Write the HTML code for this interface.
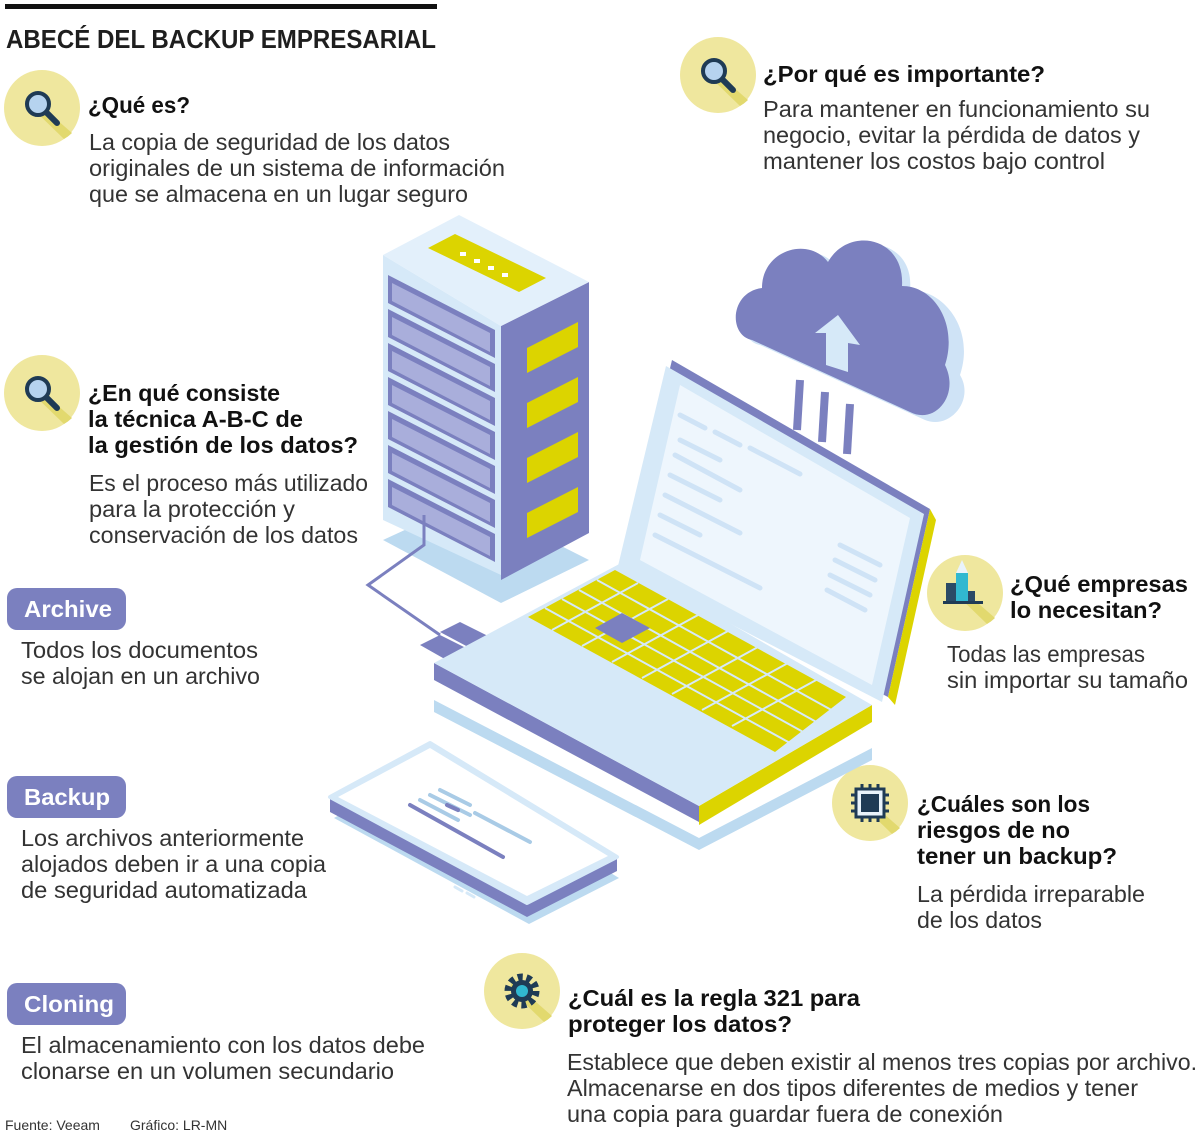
<!DOCTYPE html>
<html><head><meta charset="utf-8">
<style>
html,body{margin:0;padding:0;background:#fff;}
svg{display:block;}
text{font-family:"Liberation Sans",sans-serif;fill:#1e1e1e;}
.b{font-weight:bold;font-size:23px;fill:#111;}
.t{font-size:23px;fill:#333;}
.w{font-weight:bold;font-size:23px;fill:#fff;}
</style></head><body>
<svg width="1200" height="1139" viewBox="0 0 1200 1139" xmlns="http://www.w3.org/2000/svg">
<rect x="5" y="4" width="432" height="5" fill="#111"/>
<text x="6" y="48" style="font-weight:bold;font-size:26px" textLength="430" lengthAdjust="spacingAndGlyphs">ABECÉ DEL BACKUP EMPRESARIAL</text>

<defs>
<g id="circ">
 <circle cx="0" cy="0" r="38" fill="#efe79e"/>
 <path d="M-10,-10 L30,25 A38,38 0 0 1 22,31 L-12,-2 Z" fill="#e2d96e"/>
</g>
<g id="mag">
 <line x1="4" y1="4" x2="15" y2="15" stroke="#1f3b55" stroke-width="6" stroke-linecap="round"/>
 <circle cx="-4" cy="-4" r="11" fill="#b6d3ef" stroke="#1f3b55" stroke-width="4"/>
</g>
</defs>

<g transform="translate(42,108)"><use href="#circ"/><use href="#mag"/></g>
<g transform="translate(718,75)"><use href="#circ"/><use href="#mag"/></g>
<g transform="translate(42,393)"><use href="#circ"/><use href="#mag"/></g>
<g transform="translate(965,593)"><use href="#circ"/>
 <rect x="-19" y="-10" width="10" height="18" fill="#2b4a66"/>
 <rect x="-9" y="-20" width="12" height="28" fill="#31b8d0"/>
 <polygon points="-9,-20 -3,-33 3,-20" fill="#e9f3fb"/>
 <rect x="3" y="-2" width="7" height="10" fill="#2b4a66"/>
 <rect x="-22" y="8" width="40" height="3" fill="#1f3b55"/>
</g>
<g transform="translate(870,803)"><use href="#circ"/>
 <rect x="-14" y="-14" width="28" height="28" fill="#e9f3fb" stroke="#1f3b55" stroke-width="3"/>
 <rect x="-9" y="-9" width="18" height="18" fill="#1f3b55"/>
 <path d="M-8,-14v-5M0,-14v-5M8,-14v-5M-8,14v5M0,14v5M8,14v5M-14,-8h-5M-14,0h-5M-14,8h-5M14,-8h5M14,0h5M14,8h5" stroke="#1f3b55" stroke-width="3"/>
</g>
<g transform="translate(522,991)"><use href="#circ"/>
 <circle r="14" fill="none" stroke="#1f3b55" stroke-width="7" stroke-dasharray="5 3.8"/>
 <circle r="11" fill="#1f3b55"/>
 <circle r="6" fill="#31b8d0"/>
</g>

<text x="88" y="113" class="b" textLength="102" lengthAdjust="spacingAndGlyphs">¿Qué es?</text>
<text x="89" y="150" class="t" textLength="361" lengthAdjust="spacingAndGlyphs">La copia de seguridad de los datos</text>
<text x="89" y="176" class="t" textLength="416" lengthAdjust="spacingAndGlyphs">originales de un sistema de información</text>
<text x="89" y="202" class="t" textLength="379" lengthAdjust="spacingAndGlyphs">que se almacena en un lugar seguro</text>

<text x="763" y="82" class="b" textLength="282" lengthAdjust="spacingAndGlyphs">¿Por qué es importante?</text>
<text x="763" y="117" class="t" textLength="387" lengthAdjust="spacingAndGlyphs">Para mantener en funcionamiento su</text>
<text x="763" y="143" class="t" textLength="377" lengthAdjust="spacingAndGlyphs">negocio, evitar la pérdida de datos y</text>
<text x="763" y="169" class="t" textLength="342" lengthAdjust="spacingAndGlyphs">mantener los costos bajo control</text>

<text x="88" y="401" class="b" textLength="192" lengthAdjust="spacingAndGlyphs">¿En qué consiste</text>
<text x="88" y="427" class="b" textLength="215" lengthAdjust="spacingAndGlyphs">la técnica A-B-C de</text>
<text x="88" y="453" class="b" textLength="270" lengthAdjust="spacingAndGlyphs">la gestión de los datos?</text>
<text x="89" y="491" class="t" textLength="279" lengthAdjust="spacingAndGlyphs">Es el proceso más utilizado</text>
<text x="89" y="517" class="t" textLength="206" lengthAdjust="spacingAndGlyphs">para la protección y</text>
<text x="89" y="543" class="t" textLength="269" lengthAdjust="spacingAndGlyphs">conservación de los datos</text>

<rect x="7" y="588" width="119" height="42" rx="10" fill="#7b80bf"/>
<text x="24" y="617" class="w" textLength="88" lengthAdjust="spacingAndGlyphs">Archive</text>
<text x="21" y="658" class="t" textLength="237" lengthAdjust="spacingAndGlyphs">Todos los documentos</text>
<text x="21" y="684" class="t" textLength="239" lengthAdjust="spacingAndGlyphs">se alojan en un archivo</text>

<rect x="7" y="776" width="119" height="42" rx="10" fill="#7b80bf"/>
<text x="24" y="805" class="w" textLength="86" lengthAdjust="spacingAndGlyphs">Backup</text>
<text x="21" y="846" class="t" textLength="283" lengthAdjust="spacingAndGlyphs">Los archivos anteriormente</text>
<text x="21" y="872" class="t" textLength="305" lengthAdjust="spacingAndGlyphs">alojados deben ir a una copia</text>
<text x="21" y="898" class="t" textLength="286" lengthAdjust="spacingAndGlyphs">de seguridad automatizada</text>

<rect x="7" y="983" width="119" height="42" rx="10" fill="#7b80bf"/>
<text x="24" y="1012" class="w" textLength="90" lengthAdjust="spacingAndGlyphs">Cloning</text>
<text x="21" y="1053" class="t" textLength="404" lengthAdjust="spacingAndGlyphs">El almacenamiento con los datos debe</text>
<text x="21" y="1079" class="t" textLength="373" lengthAdjust="spacingAndGlyphs">clonarse en un volumen secundario</text>

<text x="5" y="1130" style="font-size:14px;fill:#333">Fuente: Veeam</text>
<text x="130" y="1130" style="font-size:14px;fill:#333">Gráfico: LR-MN</text>

<text x="1010" y="592" class="b" textLength="178" lengthAdjust="spacingAndGlyphs">¿Qué empresas</text>
<text x="1010" y="618" class="b" textLength="152" lengthAdjust="spacingAndGlyphs">lo necesitan?</text>
<text x="947" y="662" class="t" textLength="198" lengthAdjust="spacingAndGlyphs">Todas las empresas</text>
<text x="947" y="688" class="t" textLength="241" lengthAdjust="spacingAndGlyphs">sin importar su tamaño</text>

<text x="917" y="812" class="b" textLength="173" lengthAdjust="spacingAndGlyphs">¿Cuáles son los</text>
<text x="917" y="838" class="b" textLength="153" lengthAdjust="spacingAndGlyphs">riesgos de no</text>
<text x="917" y="864" class="b" textLength="200" lengthAdjust="spacingAndGlyphs">tener un backup?</text>
<text x="917" y="902" class="t" textLength="228" lengthAdjust="spacingAndGlyphs">La pérdida irreparable</text>
<text x="917" y="928" class="t" textLength="125" lengthAdjust="spacingAndGlyphs">de los datos</text>

<text x="568" y="1006" class="b" textLength="292" lengthAdjust="spacingAndGlyphs">¿Cuál es la regla 321 para</text>
<text x="568" y="1032" class="b" textLength="224" lengthAdjust="spacingAndGlyphs">proteger los datos?</text>
<text x="567" y="1070" class="t" textLength="630" lengthAdjust="spacingAndGlyphs">Establece que deben existir al menos tres copias por archivo.</text>
<text x="567" y="1096" class="t" textLength="571" lengthAdjust="spacingAndGlyphs">Almacenarse en dos tipos diferentes de medios y tener</text>
<text x="567" y="1122" class="t" textLength="436" lengthAdjust="spacingAndGlyphs">una copia para guardar fuera de conexión</text>

<!-- SERVER -->
<polygon points="383,540 501,603 589,560 470,500" fill="#bcdaf0"/>
<polygon points="383,255 501,326 501,575 383,520" fill="#d6e9f8"/>
<polygon points="501,326 589,282 589,533 501,580" fill="#7b80bf"/>
<polygon points="383,255 459,215 589,282 501,326" fill="#e3f0fb"/>
<polygon points="428,248 455,234 546,278 519,292" fill="#dcd400"/>
<g fill="#fff"><rect x="460" y="252" width="6" height="4"/><rect x="474" y="259" width="6" height="4"/><rect x="488" y="266" width="6" height="4"/><rect x="502" y="273" width="6" height="4"/></g>
<g id="slots">
<polygon points="388,275 495,330 495,358 388,303" fill="#7b80bf"/>
<polygon points="392,283 490,333 490,352 392,301" fill="#a9aedb"/>
</g>
<use href="#slots" transform="translate(0,34)"/>
<use href="#slots" transform="translate(0,68)"/>
<use href="#slots" transform="translate(0,102)"/>
<use href="#slots" transform="translate(0,136)"/>
<use href="#slots" transform="translate(0,170)"/>
<use href="#slots" transform="translate(0,204)"/>
<g fill="#dcd400">
<polygon points="527,348 578,322 578,347 527,373"/>
<polygon points="527,403 578,377 578,402 527,428"/>
<polygon points="527,458 578,432 578,457 527,483"/>
<polygon points="527,513 578,487 578,512 527,538"/>
</g>
<polyline points="424,515 424,545 368,585 440,635" fill="none" stroke="#7b80bf" stroke-width="3"/>
<polygon points="420,645 440,635 470,650 450,662" fill="#7b80bf"/>
<polygon points="440,632 460,622 490,637 470,648" fill="#7b80bf"/>

<!-- CLOUD -->
<g>
<path d="M760,345 C735,340 738,295 770,292 C770,255 815,240 835,265 C855,230 915,240 910,290 C945,290 975,330 960,375 C975,400 950,430 925,420 L760,345 Z" fill="#cfe3f6"/>
<path d="M752,340 C728,335 730,292 762,288 C762,250 808,236 828,262 C848,226 905,236 902,286 C935,286 958,325 945,365 C960,395 935,425 910,412 Z" fill="#7b80bf"/>
<polygon points="838,315 815,333 826,333 826,365 848,372 848,343 860,345" fill="#d6e9f8"/>
<g stroke="#7b80bf" stroke-width="8"><line x1="800" y1="380" x2="797" y2="430"/><line x1="825" y1="392" x2="822" y2="442"/><line x1="850" y1="404" x2="847" y2="454"/></g>
</g>

<!-- LAPTOP -->
<polygon points="434,700 699,838 872,748 872,760 699,850 434,712" fill="#bcdaf0"/>
<polygon points="434,663 699,806 699,822 434,680" fill="#7b80bf"/>
<polygon points="699,806 872,705 872,722 699,825" fill="#dcd400"/>
<polygon points="434,663 623,562 872,705 699,806" fill="#d6e9f8"/>
<polygon points="528,617 615,570 846,697 775,752" fill="#dcd400"/>
<g stroke="#d6e9f8" stroke-width="2">
<line x1="545" y1="608" x2="790" y2="743"/><line x1="562" y1="599" x2="805" y2="733"/><line x1="579" y1="590" x2="820" y2="724"/><line x1="597" y1="580" x2="835" y2="712"/>
<line x1="552" y1="630" x2="638" y2="583"/><line x1="582" y1="646" x2="668" y2="599"/><line x1="612" y1="662" x2="698" y2="615"/><line x1="642" y1="678" x2="728" y2="631"/><line x1="672" y1="694" x2="758" y2="647"/><line x1="702" y1="710" x2="788" y2="663"/><line x1="732" y1="726" x2="818" y2="679"/>
</g>
<polygon points="595,628 622,613 650,628 622,643" fill="#7b80bf"/>
<polygon points="623,562 672,360 930,509 888,697" fill="#7b80bf"/>
<polygon points="888,697 930,509 936,520 895,705" fill="#dcd400"/>
<polygon points="618,566 666,366 924,514 882,702" fill="#d6e9f8"/>
<polygon points="640,560 680,385 910,518 872,685" fill="#eef6fd"/>
<g stroke="#cfe3f6" stroke-width="5" stroke-linecap="round">
<line x1="680" y1="415" x2="705" y2="428"/><line x1="715" y1="432" x2="740" y2="445"/><line x1="750" y1="448" x2="800" y2="474"/><line x1="680" y1="440" x2="720" y2="460"/><line x1="675" y1="455" x2="740" y2="490"/><line x1="670" y1="475" x2="720" y2="500"/><line x1="665" y1="495" x2="740" y2="533"/><line x1="660" y1="515" x2="700" y2="535"/><line x1="655" y1="535" x2="760" y2="588"/><line x1="840" y1="545" x2="880" y2="565"/><line x1="835" y1="560" x2="875" y2="580"/><line x1="830" y1="575" x2="870" y2="595"/><line x1="827" y1="590" x2="865" y2="610"/>
</g>

<!-- TABLET -->
<polygon points="334,818 432,764 619,878 529,924" fill="#bcdaf0"/>
<polygon points="330,797 330,812 527,917 617,871 617,857 527,903" fill="#7b80bf"/>
<polygon points="330,797 430,743 617,857 527,903" fill="#d6e9f8" stroke="#d6e9f8" stroke-width="4" stroke-linejoin="round"/>
<polygon points="338,797 430,748 608,856 527,896" fill="#fff"/>
<g stroke="#d6e9f8" stroke-width="3" stroke-linecap="round"><line x1="455" y1="887" x2="462" y2="891"/><line x1="467" y1="893" x2="474" y2="897"/></g>
<g stroke-linecap="round" stroke-width="4">
<line x1="410" y1="805" x2="503" y2="857" stroke="#7b80bf"/>
<line x1="420" y1="800" x2="458" y2="820" stroke="#a9cbe6"/>
<line x1="430" y1="795" x2="470" y2="815" stroke="#a9cbe6"/>
<line x1="440" y1="790" x2="470" y2="805" stroke="#a9cbe6"/>
<line x1="447" y1="805" x2="458" y2="810" stroke="#7b80bf"/>
<line x1="475" y1="813" x2="530" y2="842" stroke="#a9cbe6"/>
</g>
</svg>
</body></html>
